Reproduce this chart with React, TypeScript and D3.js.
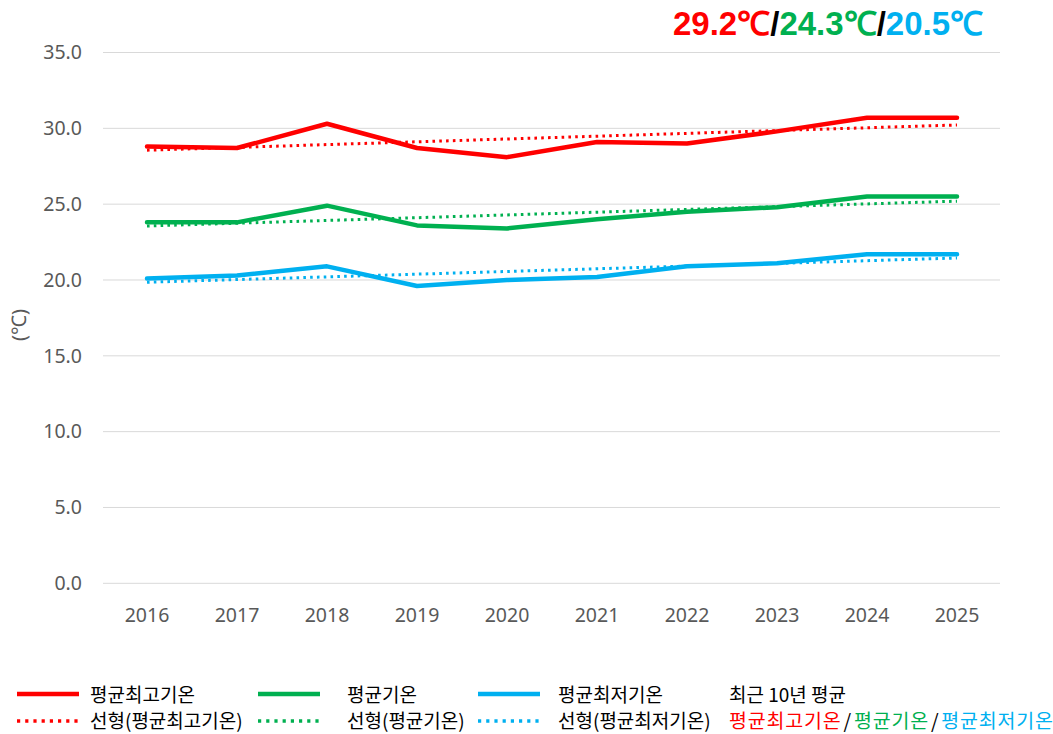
import React, { useLayoutEffect, useRef, useState } from "react";
import * as d3 from "d3";

const years = ["2016", "2017", "2018", "2019", "2020", "2021", "2022", "2023", "2024", "2025"];
const maxTemp = [28.8, 28.7, 30.3, 28.7, 28.1, 29.1, 29.0, 29.8, 30.7, 30.7];
const avgTemp = [23.8, 23.8, 24.9, 23.6, 23.4, 24.0, 24.5, 24.8, 25.5, 25.5];
const minTemp = [20.1, 20.3, 20.9, 19.6, 20.0, 20.2, 20.9, 21.1, 21.7, 21.7];
const yTicks = [0, 5, 10, 15, 20, 25, 30, 35];
const headline = ["29.2℃", "24.3℃", "20.5℃"];
const seriesNames = ["평균최고기온", "평균기온", "평균최저기온"];
const colors = ["#FF0000", "#00B050", "#00B0F0"];

const W = 1053;
const H = 734;

function trend(vals: number[]): number[] {
  const xs = vals.map((_, i) => i);
  const mx = d3.mean(xs)!;
  const my = d3.mean(vals)!;
  let sxy = 0, sxx = 0;
  xs.forEach((x, i) => {
    sxy += (x - mx) * (vals[i] - my);
    sxx += (x - mx) * (x - mx);
  });
  const b = sxy / sxx;
  const a = my - b * mx;
  return xs.map((x) => a + b * x);
}

export default function App() {
  const x = d3.scaleBand<string>().domain(years).range([102, 1002]);
  const y = d3.scaleLinear().domain([0, 35]).range([583.3, 52.5]);
  const cx = (yr: string) => x(yr)! + x.bandwidth() / 2;
  const line = d3
    .line<number>()
    .x((_, i) => cx(years[i]))
    .y((d) => y(d));
  const series = [maxTemp, avgTemp, minTemp];
  const font = "'Noto Sans', 'Noto Sans CJK KR', sans-serif";
  const kfont = "'Noto Sans CJK KR', 'Noto Sans', sans-serif";
  const axisColor = "#595959";

  const legendCols = [17, 258, 478];
  const legendText = [90, 347, 558];
  const row1 = 695;
  const row2 = 721.5;

  const avgSegs = [
    { t: seriesNames[0], c: colors[0] },
    { t: "/", c: "#000" },
    { t: seriesNames[1], c: colors[1] },
    { t: "/", c: "#000" },
    { t: seriesNames[2], c: colors[2] },
  ];
  const headSegs = [
    { t: headline[0], c: colors[0] },
    { t: "/", c: "#000" },
    { t: headline[1], c: colors[1] },
    { t: "/", c: "#000" },
    { t: headline[2], c: colors[2] },
  ];

  const avgRefs = useRef<(SVGTextElement | null)[]>([]);
  const headRefs = useRef<(SVGTextElement | null)[]>([]);
  const [avgX, setAvgX] = useState<number[]>(avgSegs.map((_, i) => 729 + i * 60));
  const [headX, setHeadX] = useState<number[]>(headSegs.map((_, i) => 673 + i * 60));

  useLayoutEffect(() => {
    const place = (refs: (SVGTextElement | null)[], start: number, gap: number) => {
      const xs: number[] = [];
      let cur = start;
      refs.forEach((el) => {
        xs.push(cur);
        cur += (el ? el.getComputedTextLength() : 0) + gap;
      });
      return xs;
    };
    setAvgX(place(avgRefs.current, 729, 2));
    setHeadX(place(headRefs.current, 673, 0));
  }, []);

  return (
    <svg width={W} height={H} style={{ position: "absolute", left: 0, top: 0, background: "#fff" }}>
      <rect x={0} y={0} width={W} height={H} fill="#fff" />
      {yTicks.map((t) => (
        <g key={t}>
          <line x1={103} x2={1000} y1={y(t)} y2={y(t)} stroke="#d9d9d9" strokeWidth={1} />
          <text x={82} y={y(t)} dy="0.35em" textAnchor="end" fontFamily={font} fontSize={19.5} fill={axisColor}>
            {t.toFixed(1)}
          </text>
        </g>
      ))}
      {years.map((yr) => (
        <text key={yr} x={cx(yr)} y={615} dy="0.35em" textAnchor="middle" fontFamily={font} fontSize={19.5} fill={axisColor}>
          {yr}
        </text>
      ))}
      <text
        transform={`translate(19,${325}) rotate(-90)`}
        textAnchor="middle"
        dy="0.35em"
        fontFamily={font}
        fontSize={20}
        fill={axisColor}
      >
        (℃)
      </text>
      {series.map((s, i) => (
        <path key={"t" + i} d={line(trend(s))!} fill="none" stroke={colors[i]} strokeWidth={3} strokeDasharray="2.6 4.2" />
      ))}
      {series.map((s, i) => (
        <path key={"s" + i} d={line(s)!} fill="none" stroke={colors[i]} strokeWidth={4.5} strokeLinejoin="round" strokeLinecap="round" />
      ))}
      {headSegs.map((s, i) => (
        <text
          key={"h" + i}
          ref={(el) => {
            headRefs.current[i] = el;
          }}
          x={headX[i]}
          y={35}
          fontFamily="'Liberation Sans', Arial, sans-serif"
          fontWeight="bold"
          fontSize={33}
          fill={s.c}
        >
          {s.t}
        </text>
      ))}
      {seriesNames.map((nm, i) => (
        <g key={"l" + i}>
          <line x1={legendCols[i]} x2={legendCols[i] + 62} y1={row1 - 1} y2={row1 - 1} stroke={colors[i]} strokeWidth={4.5} />
          <line x1={legendCols[i]} x2={legendCols[i] + 62} y1={row2 - 0.5} y2={row2 - 0.5} stroke={colors[i]} strokeWidth={3.5} strokeDasharray="3.2 5" />
          <text x={legendText[i]} y={row1} dy="0.35em" fontFamily={kfont} fontSize={19} fill="#000">
            {nm}
          </text>
          <text x={legendText[i]} y={row2} dy="0.35em" fontFamily={kfont} fontSize={19} fill="#000">
            {`선형(${nm})`}
          </text>
        </g>
      ))}
      <text x={729} y={row1} dy="0.35em" fontFamily={kfont} fontSize={19} fill="#000">
        최근 10년 평균
      </text>
      {avgSegs.map((s, i) => (
        <text
          key={"a" + i}
          ref={(el) => {
            avgRefs.current[i] = el;
          }}
          x={avgX[i]}
          y={row2}
          dy="0.35em"
          fontFamily={kfont}
          fontSize={19.5}
          letterSpacing={0.8}
          fill={s.c}
        >
          {s.t}
        </text>
      ))}
    </svg>
  );
}
